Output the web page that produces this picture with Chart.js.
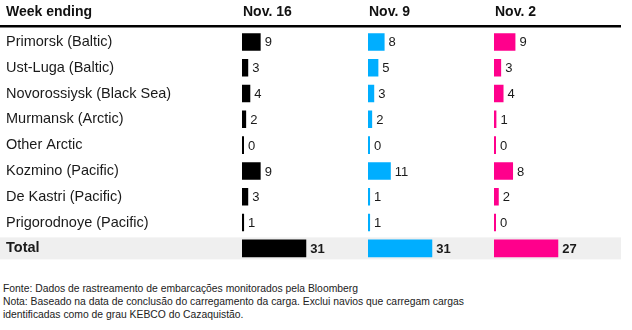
<!DOCTYPE html>
<html>
<head>
<meta charset="utf-8">
<script src="https://cdn.jsdelivr.net/npm/chart.js@4"></script>
<style>
  html, body { margin: 0; padding: 0; background: #fff; }
  #wrap { position: relative; width: 632px; height: 330px; }
  #chart-box { position: absolute; left: 0; top: 0; width: 632px; height: 270px; }
  #notes {
    position: absolute; left: 3px; top: 282px;
    font: 11.5px "Liberation Sans", Arial, sans-serif; line-height: 13px; color: #222;
    white-space: nowrap;
    transform: scaleX(0.9); transform-origin: 0 0;
  }
</style>
</head>
<body>
<div id="wrap">
  <div id="chart-box"><canvas id="portChart" width="632" height="270"></canvas></div>
  <div id="notes">
    Fonte: Dados de rastreamento de embarcações monitorados pela Bloomberg<br>
    Nota: Baseado na data de conclusão do carregamento da carga. Exclui navios que carregam cargas<br>
    identificadas como de grau KEBCO do Cazaquistão.
  </div>
</div>
<script>
// linhas da tabela (último = Total)
const ports = [
    'Primorsk (Baltic)',
    'Ust-Luga (Baltic)',
    'Novorossiysk (Black Sea)',
    'Murmansk (Arctic)',
    'Other Arctic',
    'Kozmino (Pacific)',
    'De Kastri (Pacific)',
    'Prigorodnoye (Pacific)',
    'Total'
];
const weeks = ['Nov. 16', 'Nov. 9', 'Nov. 2'];
const nov16 = [9, 3, 4, 2, 0, 9, 3, 1, 31];
const nov9 = [8, 5, 3, 2, 0, 11, 1, 1, 31];
const nov2 = [9, 3, 4, 1, 0, 8, 2, 0, 27];
const weekColors = ['#000000', '#00aeff', '#ff008c'];

const FONT = '"Liberation Sans", Arial, sans-serif';
Chart.defaults.font.family = FONT;

const series = [nov16, nov9, nov2];
const axisIds = ['x16', 'x9', 'x2'];
const BAR_SHARE = 0.51; // ส่วนของคอลัมน์ที่แท่ง Total ใช้

// พื้นหลังแถว Total
const totalBand = {
    id: 'totalBand',
    beforeDraw(chart) {
        const y = chart.scales.y;
        const cy = y.getPixelForValue(ports.length - 1);
        const ctx = chart.ctx;
        ctx.save();
        ctx.fillStyle = '#efefef';
        ctx.fillRect(0, cy - 11, 621, 22);
        ctx.restore();
    }
};

// หัวตาราง + เส้นดำ
const header = {
    id: 'header',
    afterDraw(chart) {
        const ctx = chart.ctx;
        ctx.save();
        ctx.fillStyle = '#111';
        ctx.textBaseline = 'middle';
        ctx.font = 'bold 14px ' + FONT;
        ctx.fillText('Week ending', 6, 12);
        axisIds.forEach((id, i) => {
            ctx.fillText(weeks[i], chart.scales[id].left + 1, 12);
        });
        ctx.fillStyle = '#000';
        ctx.fillRect(0, 25, 621, 2.5);
        ctx.restore();
    }
};

// ตัวเลขท้ายแท่ง
const valueLabels = {
    id: 'valueLabels',
    afterDatasetsDraw(chart) {
        const ctx = chart.ctx;
        ctx.save();
        ctx.textBaseline = 'middle';
        ctx.fillStyle = '#1a1a1a';
        chart.data.datasets.forEach((ds, di) => {
            chart.getDatasetMeta(di).data.forEach((bar, i) => {
                const last = i === ds.data.length - 1;
                ctx.font = (last ? 'bold ' : '') + '13px ' + FONT;
                ctx.fillText(ds.data[i], bar.x + 4, bar.y + 1);
            });
        });
        ctx.restore();
    }
};

const scales = {
    y: {
        type: 'category',
        position: 'left',
        grid: { display: false },
        border: { display: false },
        ticks: {
            autoSkip: false,
            crossAlign: 'far',
            padding: 0,
            color: '#1a1a1a',
            font: c => ({ size: 14.5, weight: c.index === ports.length - 1 ? 'bold' : 'normal' })
        },
        afterFit: s => { s.width = 236; }
    }
};
// แกน top ถูกวางกลับด้าน จึงใส่จากคอลัมน์ขวาสุดก่อน
axisIds.slice().reverse().forEach(id => {
    const i = axisIds.indexOf(id);
    const total = series[i][series[i].length - 1];
    scales[id] = {
        type: 'linear',
        position: 'top',
        stack: 'cols',
        stackWeight: 1,
        display: false,
        min: 0,
        max: total / BAR_SHARE
    };
});

new Chart(document.getElementById('portChart'), {
    type: 'bar',
    data: {
        labels: ports,
        datasets: series.map((d, i) => ({
            label: weeks[i],
            data: d,
            xAxisID: axisIds[i],
            backgroundColor: weekColors[i],
            grouped: false,
            barPercentage: 0.68,
            categoryPercentage: 1,
            minBarLength: 2
        }))
    },
    options: {
        indexAxis: 'y',
        responsive: false,
        animation: false,
        layout: { padding: { left: 6, right: 12, top: 29, bottom: 3 } },
        plugins: {
            legend: { display: false },
            tooltip: { enabled: false }
        },
        scales: scales
    },
    plugins: [totalBand, header, valueLabels]
});
</script>
</body>
</html>
